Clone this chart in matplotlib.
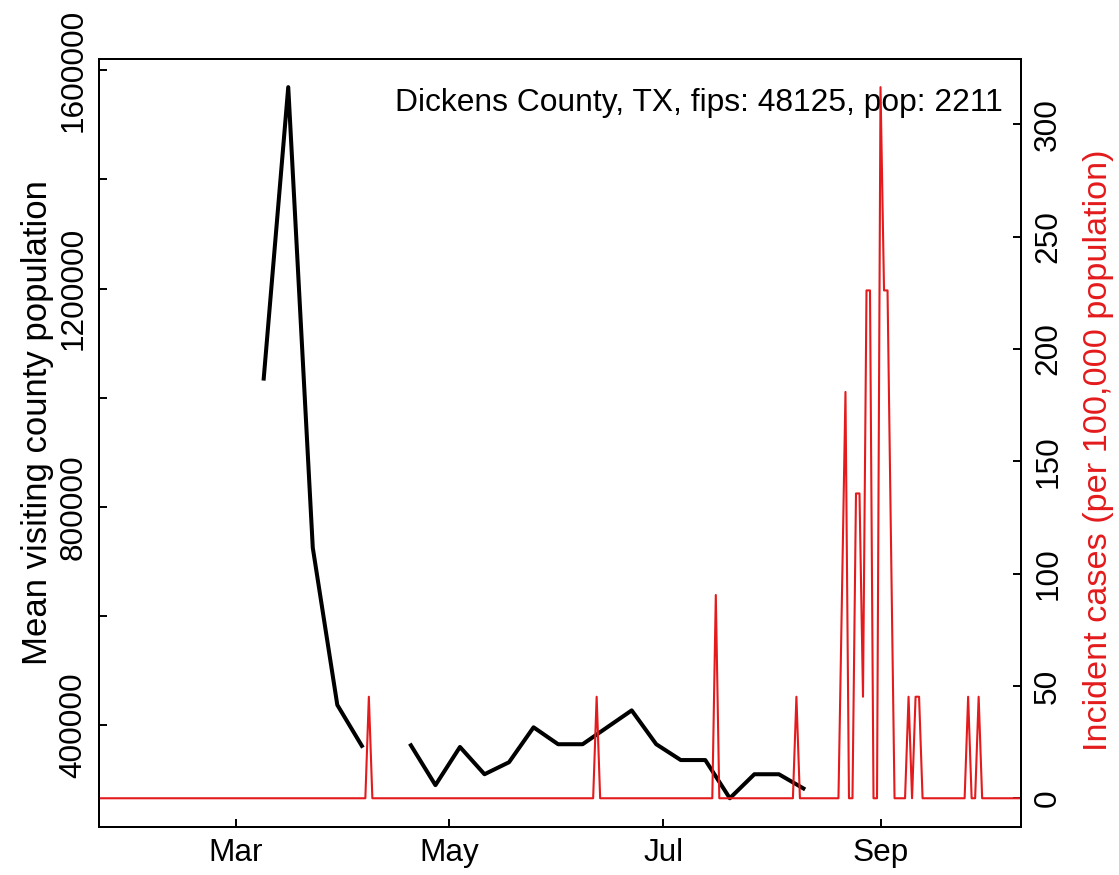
import numpy as np
import matplotlib
matplotlib.use("Agg")
import matplotlib.pyplot as plt

plt.rcParams['font.family'] = ['Liberation Sans', 'DejaVu Sans']

# weekly mean visiting county population (black)
week_dates = np.array(['2020-03-09', '2020-03-16', '2020-03-23', '2020-03-30', '2020-04-06',
                       '2020-04-13', '2020-04-20', '2020-04-27', '2020-05-04', '2020-05-11',
                       '2020-05-18', '2020-05-25', '2020-06-01', '2020-06-08', '2020-06-15',
                       '2020-06-22', '2020-06-29', '2020-07-06', '2020-07-13', '2020-07-20',
                       '2020-07-27', '2020-08-03', '2020-08-10'], dtype='datetime64[D]')
visit_pop = np.array([1035000, 1569000, 725000, 437000, 362000,
                      np.nan, 363000, 290000, 360000, 310000,
                      332000, 396000, 365000, 365000, 396000,
                      427000, 365000, 336000, 336000, 266000,
                      310000, 310000, 284000])

# daily incident cases per 100k (red); days not listed are 0
case_start = np.datetime64('2020-01-22')
case_end = np.datetime64('2020-10-11')
case_dates = np.array(['2020-04-08', '2020-06-12', '2020-07-16', '2020-08-08', '2020-08-21',
                       '2020-08-22', '2020-08-25', '2020-08-26', '2020-08-27', '2020-08-28',
                       '2020-08-29', '2020-09-01', '2020-09-02', '2020-09-03', '2020-09-04',
                       '2020-09-09', '2020-09-11', '2020-09-12', '2020-09-26', '2020-09-29'],
                      dtype='datetime64[D]')
case_vals = [45.2, 45.2, 90.5, 45.2, 90.5,
             180.9, 135.7, 135.7, 45.2, 226.1,
             226.1, 316.6, 226.1, 226.1, 113.0,
             45.2, 45.2, 45.2, 45.2, 45.2]

month_ticks = ['2020-03-01', '2020-05-01', '2020-07-01', '2020-09-01']
month_labels = ['Mar', 'May', 'Jul', 'Sep']

days = np.arange(case_start, case_end + 1, dtype='datetime64[D]')
cases = np.zeros(len(days))
for d, v in zip(case_dates, case_vals):
    cases[(d - case_start).astype(int)] = v

def todt(a):
    return np.asarray(a, dtype='datetime64[s]').astype(object)

title = "Dickens County, TX, fips: 48125, pop: 2211"
red = "#E41A1C"
fs = 22.7

fig = plt.figure(figsize=(11.19, 8.75), dpi=100)
W, H = 1119, 875
ax = fig.add_axes([99 / W, (H - 826.7) / H, (1020.7 - 99) / W, (826.7 - 58.7) / H])

ax.plot(todt(week_dates), visit_pop, color='black', lw=2.9)
lo, hi = np.nanmin(visit_pop), np.nanmax(visit_pop)
pad = 0.04 * (hi - lo)
ax.set_ylim(lo - pad, hi + pad)
ax.set_xlim(todt(case_start), todt(case_end))

yt = np.arange(400000, 1600001, 200000)
ax.set_yticks(yt)
ax.set_yticklabels([str(v) if v % 400000 == 0 else "" for v in yt], rotation=90, va='center',
                   fontsize=fs)
ax.set_ylabel("Mean visiting county population", fontsize=25, labelpad=3.5)
ax.yaxis.label.set_y(0.526)

ax.set_xticks(todt(month_ticks))
ax.set_xticklabels(month_labels, fontsize=fs)

ax2 = ax.twinx()
ax2.plot(todt(days), cases, color=red, lw=1.5)
ax2.set_ylim(-0.04 * 316.6, 316.6 * 1.04)
ax2.set_yticks(np.arange(0, 301, 50))
ax2.set_yticklabels([str(v) for v in range(0, 301, 50)], rotation=90, va='center', fontsize=fs)
ax2.set_ylabel("Incident cases (per 100,000 population)", color=red, fontsize=24.7, labelpad=14.5)
ax2.yaxis.label.set_y(0.49)

for a in (ax, ax2):
    a.tick_params(direction='in', length=6, width=1.4, pad=9, colors='black')
    for s in a.spines.values():
        s.set_linewidth(1.4)
ax.tick_params(axis='y', pad=7.5)
ax.tick_params(axis='x', pad=8)

ax.text(0.98, 0.942, title, transform=ax.transAxes, ha='right', va='center', fontsize=22.9)

fig.savefig("out.png", dpi=100)
